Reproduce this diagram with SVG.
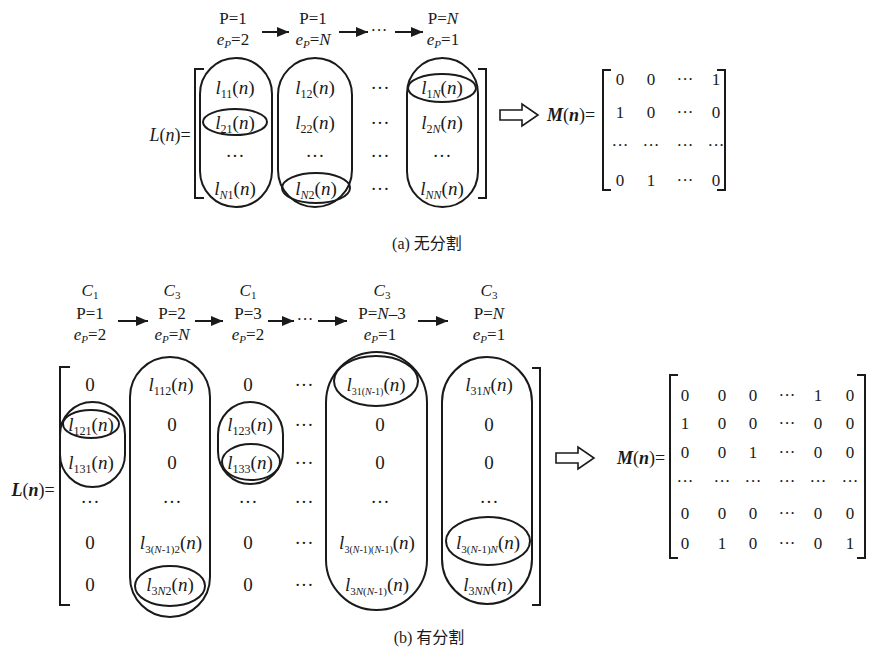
<svg xmlns="http://www.w3.org/2000/svg" width="869" height="654" viewBox="0 0 869 654">
<style>
text{font-family:"Liberation Serif","Times New Roman",serif;fill:#1a1a1a;}
.e{font-size:19px;text-anchor:middle;}
.m{font-size:17px;text-anchor:middle;}
.lab{font-size:17px;text-anchor:middle;}
.i{font-style:italic;}
.bi{font-style:italic;font-weight:bold;}
.cap{font-size:16px;text-anchor:middle;font-family:"Liberation Serif","Noto Sans CJK SC",serif;}
.s{stroke:#1a1a1a;stroke-width:2;fill:none;}
.br{stroke:#1a1a1a;stroke-width:2;fill:none;}
.ar{stroke:#1a1a1a;stroke-width:2;fill:none;}
.ha{stroke:#1a1a1a;stroke-width:1.6;fill:#fff;}
</style>
<defs>
<marker id="ah" markerUnits="userSpaceOnUse" markerWidth="12" markerHeight="10" refX="12" refY="5" orient="auto">
<path d="M0,0 L12,5 L0,10 Z" fill="#1a1a1a"/>
</marker>
</defs>

<!-- ===== (a) ===== -->
<g id="a-labels">
<text class="lab" x="233" y="24">P=1</text>
<text class="lab" x="233" y="45"><tspan class="i">e</tspan><tspan class="i" font-size="11" dy="3">P</tspan><tspan dy="-3">=2</tspan></text>
<text class="lab" x="313" y="24">P=1</text>
<text class="lab" x="313" y="45"><tspan class="i">e</tspan><tspan class="i" font-size="11" dy="3">P</tspan><tspan dy="-3">=</tspan><tspan class="i">N</tspan></text>
<text class="lab" x="379" y="36">···</text>
<text class="lab" x="443" y="24">P=<tspan class="i">N</tspan></text>
<text class="lab" x="443" y="45"><tspan class="i">e</tspan><tspan class="i" font-size="11" dy="3">P</tspan><tspan dy="-3">=1</tspan></text>
</g>

<g id="a-L">
<text x="170" y="141" font-size="18" text-anchor="middle"><tspan class="i">L</tspan>(<tspan class="i">n</tspan>)=</text>
<path class="br" d="M204,69 H195 V198 H204"/>
<path class="br" d="M478,69 H486 V198 H478"/>
<rect class="s" x="200" y="58" width="72" height="149" rx="36" ry="36"/>
<rect class="s" x="278" y="58" width="74" height="149" rx="37" ry="37"/>
<rect class="s" x="407" y="58" width="71" height="149" rx="35.5" ry="35.5"/>
<ellipse class="s" cx="235" cy="122" rx="32" ry="13"/>
<ellipse class="s" cx="316" cy="188" rx="34" ry="15"/>
<ellipse class="s" cx="442" cy="88" rx="34" ry="14"/>
<text class="e" x="235" y="94"><tspan class="i">l</tspan><tspan font-size="12" dy="4">11</tspan><tspan dy="-4">(</tspan><tspan class="i">n</tspan>)</text>
<text class="e" x="315" y="94"><tspan class="i">l</tspan><tspan font-size="12" dy="4">12</tspan><tspan dy="-4">(</tspan><tspan class="i">n</tspan>)</text>
<text class="e" x="380" y="94">···</text>
<text class="e" x="442" y="94"><tspan class="i">l</tspan><tspan font-size="12" dy="4">1<tspan class="i">N</tspan></tspan><tspan dy="-4">(</tspan><tspan class="i">n</tspan>)</text>
<text class="e" x="235" y="129"><tspan class="i">l</tspan><tspan font-size="12" dy="4">21</tspan><tspan dy="-4">(</tspan><tspan class="i">n</tspan>)</text>
<text class="e" x="315" y="129"><tspan class="i">l</tspan><tspan font-size="12" dy="4">22</tspan><tspan dy="-4">(</tspan><tspan class="i">n</tspan>)</text>
<text class="e" x="380" y="129">···</text>
<text class="e" x="442" y="129"><tspan class="i">l</tspan><tspan font-size="12" dy="4">2<tspan class="i">N</tspan></tspan><tspan dy="-4">(</tspan><tspan class="i">n</tspan>)</text>
<text class="e" x="235" y="162">···</text>
<text class="e" x="315" y="162">···</text>
<text class="e" x="380" y="162">···</text>
<text class="e" x="442" y="162">···</text>
<text class="e" x="235" y="195"><tspan class="i">l</tspan><tspan font-size="12" dy="4"><tspan class="i">N</tspan>1</tspan><tspan dy="-4">(</tspan><tspan class="i">n</tspan>)</text>
<text class="e" x="316" y="195"><tspan class="i">l</tspan><tspan font-size="12" dy="4"><tspan class="i">N</tspan>2</tspan><tspan dy="-4">(</tspan><tspan class="i">n</tspan>)</text>
<text class="e" x="380" y="195">···</text>
<text class="e" x="442" y="195"><tspan class="i">l</tspan><tspan font-size="12" dy="4"><tspan class="i">NN</tspan></tspan><tspan dy="-4">(</tspan><tspan class="i">n</tspan>)</text>
</g>

<g id="a-M">
<path class="ha" d="M500,110 H522 V104 L538,115 L522,126 V120 H500 Z"/>
<text x="571" y="121" font-size="18" text-anchor="middle" class="bi">M<tspan font-weight="normal" font-style="normal">(</tspan>n<tspan font-weight="normal" font-style="normal">)=</tspan></text>
<path class="br" d="M611,70 H603 V190 H611"/>
<path class="br" d="M717,70 H725 V190 H717"/>
<text class="m" x="620" y="85">0</text><text class="m" x="651" y="85">0</text><text class="m" x="685" y="85">···</text><text class="m" x="716" y="85">1</text>
<text class="m" x="620" y="118">1</text><text class="m" x="651" y="118">0</text><text class="m" x="685" y="118">···</text><text class="m" x="716" y="118">0</text>
<text class="m" x="620" y="151">···</text><text class="m" x="651" y="151">···</text><text class="m" x="685" y="151">···</text><text class="m" x="716" y="151">···</text>
<text class="m" x="620" y="186">0</text><text class="m" x="651" y="186">1</text><text class="m" x="685" y="186">···</text><text class="m" x="716" y="186">0</text>
</g>

<text class="cap" x="427" y="249">(a) 无分割</text>

<!-- ===== (b) ===== -->
<g id="b-labels">
<text class="lab" x="90" y="296"><tspan class="i">C</tspan><tspan font-size="11" dy="3">1</tspan></text>
<text class="lab" x="90" y="319">P=1</text>
<text class="lab" x="90" y="340"><tspan class="i">e</tspan><tspan class="i" font-size="11" dy="3">P</tspan><tspan dy="-3">=2</tspan></text>
<text class="lab" x="172" y="296"><tspan class="i">C</tspan><tspan font-size="11" dy="3">3</tspan></text>
<text class="lab" x="172" y="319">P=2</text>
<text class="lab" x="172" y="340"><tspan class="i">e</tspan><tspan class="i" font-size="11" dy="3">P</tspan><tspan dy="-3">=</tspan><tspan class="i">N</tspan></text>
<text class="lab" x="248" y="296"><tspan class="i">C</tspan><tspan font-size="11" dy="3">1</tspan></text>
<text class="lab" x="248" y="319">P=3</text>
<text class="lab" x="248" y="340"><tspan class="i">e</tspan><tspan class="i" font-size="11" dy="3">P</tspan><tspan dy="-3">=2</tspan></text>
<text class="lab" x="305" y="325">···</text>
<text class="lab" x="382" y="296"><tspan class="i">C</tspan><tspan font-size="11" dy="3">3</tspan></text>
<text class="lab" x="382" y="319">P=<tspan class="i">N</tspan>–3</text>
<text class="lab" x="380" y="340"><tspan class="i">e</tspan><tspan class="i" font-size="11" dy="3">P</tspan><tspan dy="-3">=1</tspan></text>
<text class="lab" x="489" y="296"><tspan class="i">C</tspan><tspan font-size="11" dy="3">3</tspan></text>
<text class="lab" x="489" y="319">P=<tspan class="i">N</tspan></text>
<text class="lab" x="489" y="340"><tspan class="i">e</tspan><tspan class="i" font-size="11" dy="3">P</tspan><tspan dy="-3">=1</tspan></text>
</g>

<g id="b-L">
<text x="33" y="496" font-size="18" text-anchor="middle" class="bi">L<tspan font-weight="normal" font-style="normal">(</tspan>n<tspan font-weight="normal" font-style="normal">)=</tspan></text>
<path class="br" d="M70,367 H60 V605 H70"/>
<path class="br" d="M532,368 H540 V605 H532"/>
<rect class="s" x="60" y="402" width="65" height="85" rx="32.5" ry="32.5"/>
<rect class="s" x="130" y="357" width="80" height="260" rx="40" ry="40"/>
<rect class="s" x="218" y="402" width="65" height="82" rx="32.5" ry="32.5"/>
<rect class="s" x="326" y="352" width="101" height="258" rx="50.5" ry="50.5"/>
<rect class="s" x="442" y="357" width="90" height="247" rx="45" ry="45"/>
<ellipse class="s" cx="91" cy="424" rx="28" ry="14"/>
<ellipse class="s" cx="251" cy="462" rx="29" ry="18"/>
<ellipse class="s" cx="170" cy="586" rx="35" ry="20"/>
<ellipse class="s" cx="376" cy="381" rx="42" ry="25"/>
<ellipse class="s" cx="488" cy="541" rx="42" ry="24"/>

<text class="e" x="90" y="391">0</text>
<text class="e" x="171" y="391"><tspan class="i">l</tspan><tspan font-size="12" dy="4">112</tspan><tspan dy="-4">(</tspan><tspan class="i">n</tspan>)</text>
<text class="e" x="248" y="391">0</text>
<text class="e" x="304" y="391">···</text>
<text class="e" x="376" y="391"><tspan class="i">l</tspan><tspan font-size="10" dy="4">31(<tspan class="i">N</tspan>-1)</tspan><tspan dy="-4">(</tspan><tspan class="i">n</tspan>)</text>
<text class="e" x="489" y="391"><tspan class="i">l</tspan><tspan font-size="12" dy="4">31<tspan class="i">N</tspan></tspan><tspan dy="-4">(</tspan><tspan class="i">n</tspan>)</text>

<text class="e" x="91" y="431"><tspan class="i">l</tspan><tspan font-size="12" dy="4">121</tspan><tspan dy="-4">(</tspan><tspan class="i">n</tspan>)</text>
<text class="e" x="172" y="431">0</text>
<text class="e" x="250" y="431"><tspan class="i">l</tspan><tspan font-size="12" dy="4">123</tspan><tspan dy="-4">(</tspan><tspan class="i">n</tspan>)</text>
<text class="e" x="304" y="431">···</text>
<text class="e" x="380" y="431">0</text>
<text class="e" x="489" y="431">0</text>

<text class="e" x="91" y="469"><tspan class="i">l</tspan><tspan font-size="12" dy="4">131</tspan><tspan dy="-4">(</tspan><tspan class="i">n</tspan>)</text>
<text class="e" x="172" y="469">0</text>
<text class="e" x="250" y="469"><tspan class="i">l</tspan><tspan font-size="12" dy="4">133</tspan><tspan dy="-4">(</tspan><tspan class="i">n</tspan>)</text>
<text class="e" x="304" y="469">···</text>
<text class="e" x="380" y="469">0</text>
<text class="e" x="489" y="469">0</text>

<text class="e" x="90" y="508">···</text>
<text class="e" x="172" y="508">···</text>
<text class="e" x="248" y="508">···</text>
<text class="e" x="304" y="508">···</text>
<text class="e" x="380" y="508">···</text>
<text class="e" x="489" y="508">···</text>

<text class="e" x="90" y="549">0</text>
<text class="e" x="171" y="549"><tspan class="i">l</tspan><tspan font-size="11" dy="4">3(<tspan class="i">N</tspan>-1)2</tspan><tspan dy="-4">(</tspan><tspan class="i">n</tspan>)</text>
<text class="e" x="248" y="549">0</text>
<text class="e" x="304" y="549">···</text>
<text class="e" x="377" y="549"><tspan class="i">l</tspan><tspan font-size="10" dy="4">3(<tspan class="i">N</tspan>-1)(<tspan class="i">N</tspan>-1)</tspan><tspan dy="-4">(</tspan><tspan class="i">n</tspan>)</text>
<text class="e" x="488" y="549"><tspan class="i">l</tspan><tspan font-size="11" dy="4">3(<tspan class="i">N</tspan>-1)<tspan class="i">N</tspan></tspan><tspan dy="-4">(</tspan><tspan class="i">n</tspan>)</text>

<text class="e" x="90" y="591">0</text>
<text class="e" x="170" y="591"><tspan class="i">l</tspan><tspan font-size="12" dy="4">3<tspan class="i">N</tspan>2</tspan><tspan dy="-4">(</tspan><tspan class="i">n</tspan>)</text>
<text class="e" x="248" y="591">0</text>
<text class="e" x="304" y="591">···</text>
<text class="e" x="377" y="591"><tspan class="i">l</tspan><tspan font-size="11" dy="4">3<tspan class="i">N</tspan>(<tspan class="i">N</tspan>-1)</tspan><tspan dy="-4">(</tspan><tspan class="i">n</tspan>)</text>
<text class="e" x="488" y="591"><tspan class="i">l</tspan><tspan font-size="12" dy="4">3<tspan class="i">NN</tspan></tspan><tspan dy="-4">(</tspan><tspan class="i">n</tspan>)</text>
</g>

<g id="b-M">
<path class="ha" d="M556,453 H578 V447 L594,458 L578,469 V463 H556 Z"/>
<text x="641" y="464" font-size="18" text-anchor="middle" class="bi">M<tspan font-weight="normal" font-style="normal">(</tspan>n<tspan font-weight="normal" font-style="normal">)=</tspan></text>
<path class="br" d="M678,375 H670 V558 H678"/>
<path class="br" d="M857,375 H865 V558 H857"/>
<text class="m" x="685" y="401">0</text><text class="m" x="722" y="401">0</text><text class="m" x="753" y="401">0</text><text class="m" x="787" y="401">···</text><text class="m" x="818" y="401">1</text><text class="m" x="850" y="401">0</text>
<text class="m" x="685" y="429">1</text><text class="m" x="722" y="429">0</text><text class="m" x="753" y="429">0</text><text class="m" x="787" y="429">···</text><text class="m" x="818" y="429">0</text><text class="m" x="850" y="429">0</text>
<text class="m" x="685" y="458">0</text><text class="m" x="722" y="458">0</text><text class="m" x="753" y="458">1</text><text class="m" x="787" y="458">···</text><text class="m" x="818" y="458">0</text><text class="m" x="850" y="458">0</text>
<text class="m" x="685" y="487">···</text><text class="m" x="722" y="487">···</text><text class="m" x="753" y="487">···</text><text class="m" x="787" y="487">···</text><text class="m" x="818" y="487">···</text><text class="m" x="850" y="487">···</text>
<text class="m" x="685" y="519">0</text><text class="m" x="722" y="519">0</text><text class="m" x="753" y="519">0</text><text class="m" x="787" y="519">···</text><text class="m" x="818" y="519">0</text><text class="m" x="850" y="519">0</text>
<text class="m" x="685" y="549">0</text><text class="m" x="722" y="549">1</text><text class="m" x="753" y="549">0</text><text class="m" x="787" y="549">···</text><text class="m" x="818" y="549">0</text><text class="m" x="850" y="549">1</text>
</g>

<text class="cap" x="429" y="643">(b) 有分割</text>

<g id="connectors">
<line class="ar" x1="262" y1="32" x2="289" y2="32" marker-end="url(#ah)"/>
<line class="ar" x1="339" y1="32" x2="368" y2="32" marker-end="url(#ah)"/>
<line class="ar" x1="395" y1="32" x2="423" y2="32" marker-end="url(#ah)"/>
<line class="ar" x1="118" y1="321" x2="148" y2="321" marker-end="url(#ah)"/>
<line class="ar" x1="195" y1="321" x2="223" y2="321" marker-end="url(#ah)"/>
<line class="ar" x1="268" y1="321" x2="294" y2="321" marker-end="url(#ah)"/>
<line class="ar" x1="318" y1="321" x2="347" y2="321" marker-end="url(#ah)"/>
<line class="ar" x1="418" y1="321" x2="448" y2="321" marker-end="url(#ah)"/>
</g>
</svg>
